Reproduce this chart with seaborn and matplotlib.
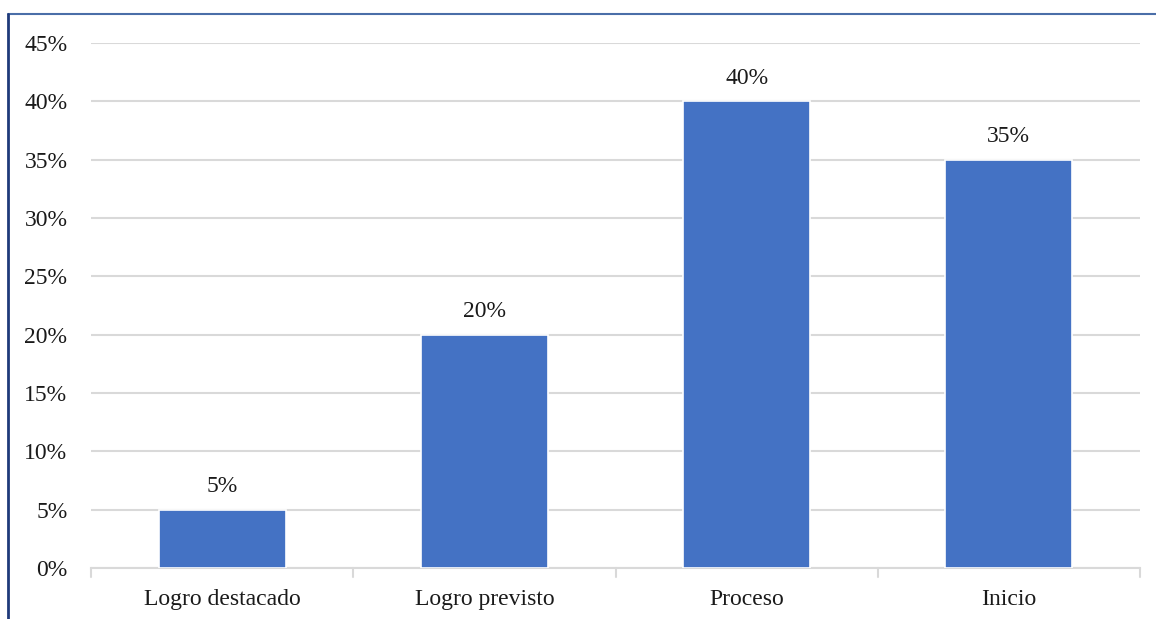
import matplotlib
matplotlib.use("Agg")
import matplotlib.pyplot as plt
from matplotlib.lines import Line2D
import seaborn as sns
import pandas as pd

categories = ["Logro destacado", "Logro previsto", "Proceso", "Inicio"]
values = [5, 20, 40, 35]
yticks = [0, 5, 10, 15, 20, 25, 30, 35, 40, 45]

sns.set_style("white")
plt.rcParams["font.family"] = ["Liberation Serif", "DejaVu Serif"]

df = pd.DataFrame({"cat": categories, "val": values})

fig = plt.figure(figsize=(11.56, 6.19), dpi=100)
W, H = 1156, 619
ax = fig.add_axes([91 / W, 1 - 568 / H, (1140 - 91) / W, (568 - 43) / H])

sns.barplot(data=df, x="cat", y="val", color="#4472C4", width=0.485,
            edgecolor="white", linewidth=1.2, saturation=1, ax=ax, zorder=3)

FS = 17
ax.set_xlim(-0.5, len(categories) - 0.5)
ax.set_ylim(0, 45)
ax.set_yticks(yticks)
ax.set_yticklabels([f"{t}%" for t in yticks], fontsize=FS, color="#1a1a1a")
ax.set_xticks(range(len(categories)))
ax.set_xticklabels(categories, fontsize=FS, color="#1a1a1a")
ax.set_xlabel("")
ax.set_ylabel("")
ax.tick_params(axis="y", length=0, pad=17)
ax.tick_params(axis="x", length=0, pad=15)

ax.yaxis.grid(True, color="#d9d9d9", linewidth=1.5, zorder=0)
ax.set_axisbelow(True)
for side in ["top", "right", "left"]:
    ax.spines[side].set_visible(False)
ax.spines["bottom"].set_color("#d9d9d9")
ax.spines["bottom"].set_linewidth(1.5)

# category boundary ticks below the axis
for b in [i - 0.5 for i in range(len(categories) + 1)]:
    ax.plot([b, b], [0, -0.8], color="#d9d9d9", linewidth=1.5,
            clip_on=False, zorder=1)

for i, v in enumerate(values):
    ax.annotate(f"{v}%", (i, v), xytext=(0, 9), textcoords="offset points",
                ha="center", va="bottom", fontsize=FS, color="#1a1a1a")

# frame lines around the figure
fig.add_artist(Line2D([8 / W, 1], [1 - 14 / H, 1 - 14 / H],
                      transform=fig.transFigure, color="#4a6ea8", linewidth=1.5))
fig.add_artist(Line2D([8 / W, 8 / W], [0, 1 - 14 / H],
                      transform=fig.transFigure, color="#1f3a7a", linewidth=2))

fig.savefig("out.png", dpi=100)
